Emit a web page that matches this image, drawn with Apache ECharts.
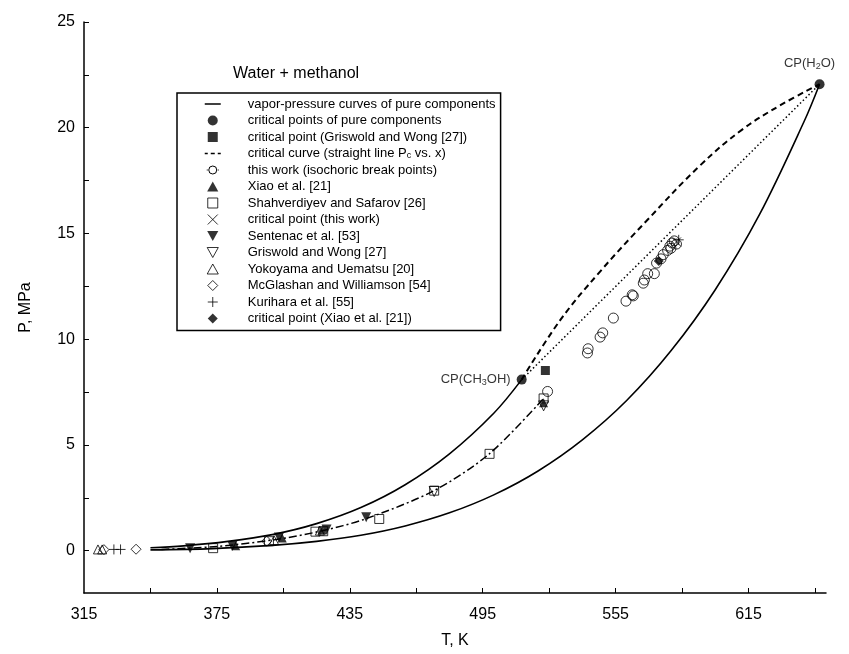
<!DOCTYPE html>
<html><head><meta charset="utf-8">
<script src="https://cdn.jsdelivr.net/npm/echarts@6/dist/echarts.min.js"></script>
<style>html,body{margin:0;padding:0;background:#fff}#c{width:849px;height:654px}</style>
</head><body><div id="c"></div>
<script>
// ---------- data (T in K, P in MPa) ----------
const xLabelValues = [315, 375, 435, 495, 555, 615];
const xTickValues = [345, 375, 405, 435, 465, 495, 525, 555, 585, 615, 645];
const yLabelValues = [0, 5, 10, 15, 20, 25];
const yTickValues = [0, 2.5, 5, 7.5, 10, 12.5, 15, 17.5, 20, 22.5, 25];

const methanolT = [345, 360, 380, 400, 420, 440, 460, 480, 500, 512.6];
const methanolP = [0.14, 0.23, 0.44, 0.76, 1.28, 2.04, 3.12, 4.58, 6.5, 8.09];
const waterT = [345, 373, 400, 420, 440, 460, 480, 500, 520, 540, 560, 580, 600, 620, 640, 647.1];
const waterP = [0.04, 0.10, 0.25, 0.44, 0.73, 1.17, 1.79, 2.64, 3.77, 5.24, 7.10, 9.45, 12.34, 15.9, 20.27, 22.06];

const critCurveT = [512.6, 530, 548, 569, 593, 612, 630, 647.1];
const critCurveP = [8.09, 10.9, 13.2, 15.6, 18.2, 19.9, 21.1, 22.06];

const dotLineT = [512.6, 647.1];
const dotLineP = [8.09, 22.06];

const dashDotT = [350, 375, 401, 422, 442, 473, 498, 522.5];
const dashDotP = [0.06, 0.2, 0.52, 0.93, 1.5, 2.84, 4.58, 7.2];

const pureCritT = [512.6, 647.1];
const pureCritP = [8.09, 22.06];
const pureCritLabels = ['CP(CH{s|3}OH)', 'CP(H{s|2}O)'];

const griswoldCritT = [523.3];
const griswoldCritP = [8.52];

const thisWorkT = [524.3, 542.3, 542.6, 548.0, 549.2, 554.0, 559.7, 562.5, 563.0, 567.5, 568.0, 569.5, 572.5, 573.5, 575.5, 576.5, 578.5, 579.5, 580.5, 581.5, 582.5, 580.0];
const thisWorkP = [7.53, 9.35, 9.55, 10.1, 10.3, 11.0, 11.8, 12.1, 12.05, 12.65, 12.8, 13.1, 13.1, 13.6, 13.8, 14.0, 14.2, 14.4, 14.55, 14.65, 14.5, 14.3];

const xiaoT = [383.5, 404.5, 422.5, 522.5];
const xiaoP = [0.24, 0.6, 0.98, 7.0];

const shahT = [373.3, 398.5, 419.5, 423.0, 448.3, 473.1, 498.1, 522.5];
const shahP = [0.12, 0.45, 0.9, 0.92, 1.5, 2.84, 4.58, 7.2];

const critThisWorkT = [582.5];
const critThisWorkP = [14.6];

const sentenacT = [362.9, 382.0, 403.0, 424.5, 442.4];
const sentenacP = [0.12, 0.22, 0.62, 1.0, 1.58];

const griswoldT = [473.1, 522.5];
const griswoldP = [2.8, 6.85];

const yokoyamaT = [321.3, 323.2, 400.8, 421.5];
const yokoyamaP = [0.06, 0.06, 0.5, 0.95];

const mcglashanT = [324.0, 338.5, 397.5];
const mcglashanP = [0.05, 0.07, 0.45];

const kuriharaT = [328.5, 331.5, 583.5];
const kuriharaP = [0.06, 0.06, 14.7];

const xiaoCritT = [574.5];
const xiaoCritP = [13.7];

// ---------- names ----------
const N_VAP = 'vapor-pressure curves of pure components';
const N_PURE = 'critical points of pure components';
const N_GWC = 'critical point (Griswold and Wong [27])';
const N_CC = 'critical curve (straight line Pc vs. x)';
const N_TW = 'this work (isochoric break points)';
const N_XIAO = 'Xiao et al. [21]';
const N_SHAH = 'Shahverdiyev and Safarov [26]';
const N_CTW = 'critical point (this work)';
const N_SEN = 'Sentenac et al. [53]';
const N_GW = 'Griswold and Wong [27]';
const N_YOK = 'Yokoyama and Uematsu [20]';
const N_MCG = 'McGlashan and Williamson [54]';
const N_KUR = 'Kurihara et al. [55]';
const N_XC = 'critical point (Xiao et al. [21])';

const FONT = '"Liberation Sans", Arial, Helvetica, sans-serif';
const pairs = (xs, ys) => xs.map((x, i) => [x, ys[i]]);

const SYM = {
  down: 'path://M0,0L10,0L5,9Z',
  up: 'path://M5,0L10,9L0,9Z',
  square: 'path://M0,0L9,0L9,9L0,9Z',
  diamond: 'path://M5,0L10,5L5,10L0,5Z',
  plus: 'path://M5,0L5,10M0,5L10,5',
  cross: 'path://M0,0L9,9M9,0L0,9'
};
const FILLED = {color: '#000', borderColor: '#000', borderWidth: 0};
const OPEN = {color: 'rgba(255,255,255,0)', borderColor: '#000', borderWidth: 1};

function sc(name, T, P, symbol, style, size) {
  return {
    type: 'scatter', name, data: pairs(T, P), symbol, symbolSize: size || 9,
    itemStyle: style, emphasis: {disabled: true}, silent: true, z: 5
  };
}
function ln(name, T, P, lineStyle, smooth) {
  return {
    type: 'line', name, data: pairs(T, P), symbol: 'none', showSymbol: false,
    smooth: smooth, lineStyle: Object.assign({color: '#000'}, lineStyle),
    emphasis: {disabled: true}, silent: true, z: 3
  };
}

const pureCritSeries = sc(N_PURE, pureCritT, pureCritP, 'circle', FILLED, 10);
pureCritSeries.data = pureCritSeries.data.map((v, i) => ({
  value: v,
  label: {
    show: true,
    formatter: pureCritLabels[i],
    position: i === 0 ? 'left' : 'top',
    distance: i === 0 ? 6 : 8,
    offset: i === 0 ? [0, 0] : [-10, 0],
    color: '#000', fontFamily: FONT, fontSize: 13,
    rich: {s: {fontSize: 9, fontFamily: FONT, color: '#000', padding: [6, 0, 0, 0]}}
  }
}));

const series = [
  ln(N_VAP, methanolT, methanolP, {width: 1.6, type: 'solid'}, 0.35),
  ln(N_VAP, waterT, waterP, {width: 1.6, type: 'solid'}, 0.35),
  ln(N_CC, critCurveT, critCurveP, {width: 2, type: [6, 4]}, 0.4),
  ln(N_TW, dotLineT, dotLineP, {width: 1.5, type: [1.5, 2.5]}, false),
  ln('dashdot', dashDotT, dashDotP, {width: 1.5, type: [8, 3, 2, 3]}, 0.3),
  pureCritSeries,
  sc(N_GWC, griswoldCritT, griswoldCritP, 'rect', FILLED, 9),
  sc(N_TW, thisWorkT, thisWorkP, 'circle', OPEN, 10),
  sc(N_XIAO, xiaoT, xiaoP, 'triangle', FILLED, 9),
  sc(N_SHAH, shahT, shahP, 'rect', OPEN, 9),
  sc(N_CTW, critThisWorkT, critThisWorkP, SYM.cross, OPEN, 9),
  sc(N_SEN, sentenacT, sentenacP, SYM.down, FILLED, 10),
  sc(N_GW, griswoldT, griswoldP, SYM.down, OPEN, 10),
  sc(N_YOK, yokoyamaT, yokoyamaP, 'triangle', OPEN, 9),
  sc(N_MCG, mcglashanT, mcglashanP, 'diamond', OPEN, 10),
  sc(N_KUR, kuriharaT, kuriharaP, SYM.plus, OPEN, 10),
  sc(N_XC, xiaoCritT, xiaoCritP, 'diamond', FILLED, 10)
];

const LINE_ICON = {color: 'rgba(0,0,0,0)', borderColor: '#000', borderWidth: 1.5};
const legendData = [
  {name: N_VAP, icon: 'path://M0,0M1,5L17,5M18,10', itemStyle: LINE_ICON},
  {name: N_PURE, icon: 'circle', itemStyle: FILLED},
  {name: N_GWC, icon: SYM.square, itemStyle: FILLED},
  {name: N_CC, icon: 'path://M0,0M1,5L4,5M7,5L11,5M14,5L17,5M18,10', itemStyle: LINE_ICON},
  {name: N_TW, icon: 'path://M0,0M3,5L4,5M14,5L15,5M13,5A4,4,0,1,1,5,5A4,4,0,1,1,13,5M18,10', itemStyle: {color: 'rgba(0,0,0,0)', borderColor: '#000', borderWidth: 1}},
  {name: N_XIAO, icon: SYM.up, itemStyle: FILLED},
  {name: N_SHAH, icon: SYM.square, itemStyle: OPEN},
  {name: N_CTW, icon: SYM.cross, itemStyle: OPEN},
  {name: N_SEN, icon: SYM.down, itemStyle: FILLED},
  {name: N_GW, icon: SYM.down, itemStyle: OPEN},
  {name: N_YOK, icon: SYM.up, itemStyle: OPEN},
  {name: N_MCG, icon: SYM.diamond, itemStyle: OPEN},
  {name: N_KUR, icon: SYM.plus, itemStyle: OPEN},
  {name: N_XC, icon: SYM.diamond, itemStyle: FILLED}
];

const axisFont = {color: '#000', fontFamily: FONT, fontSize: 16};

const option = {
  animation: false,
  backgroundColor: '#fff',
  title: {
    text: 'Water + methanol', left: 228, top: 61,
    textStyle: {fontFamily: FONT, fontSize: 16, fontWeight: 'normal', color: '#000'}
  },
  legend: {
    orient: 'vertical', left: 177, top: 93,
    padding: [4, 5, 5, 26], itemWidth: 18, itemHeight: 10, itemGap: 2.5,
    symbolKeepAspect: true,
    borderColor: '#000', borderWidth: 1.5, backgroundColor: '#fff',
    selectedMode: false,
    textStyle: {
      fontFamily: FONT, fontSize: 13, color: '#000', lineHeight: 14, padding: [0, 0, 0, 21],
      rich: {s: {fontFamily: FONT, fontSize: 9, color: '#000', padding: [5, 0, 0, 0]}}
    },
    formatter: n => n === N_CC ? 'critical curve (straight line P{s|c} vs. x)' : n,
    data: legendData
  },
  grid: {left: 84, right: 23, top: 22, bottom: 61, containLabel: false, outerBoundsMode: 'none'},
  xAxis: {
    type: 'value', min: 315, max: 650,
    name: 'T, K', nameLocation: 'middle', nameGap: 40, nameTextStyle: axisFont,
    axisLine: {show: true, onZero: false, lineStyle: {color: '#000', width: 1.5}},
    axisTick: {show: true, inside: true, length: 5, lineStyle: {color: '#000', width: 1}, customValues: xTickValues},
    axisLabel: Object.assign({margin: 14, customValues: xLabelValues}, axisFont),
    splitLine: {show: false}
  },
  yAxis: {
    type: 'value', min: -2, max: 25,
    name: 'P, MPa', nameLocation: 'middle', nameGap: 50, nameTextStyle: axisFont,
    axisLine: {show: true, onZero: false, lineStyle: {color: '#000', width: 1.5}},
    axisTick: {show: true, inside: true, length: 5, lineStyle: {color: '#000', width: 1}, customValues: yTickValues},
    axisLabel: Object.assign({margin: 9, customValues: yLabelValues}, axisFont),
    splitLine: {show: false}
  },
  series: series
};

const chart = echarts.init(document.getElementById('c'), null, {renderer: 'canvas'});
chart.setOption(option);
</script></body></html>
